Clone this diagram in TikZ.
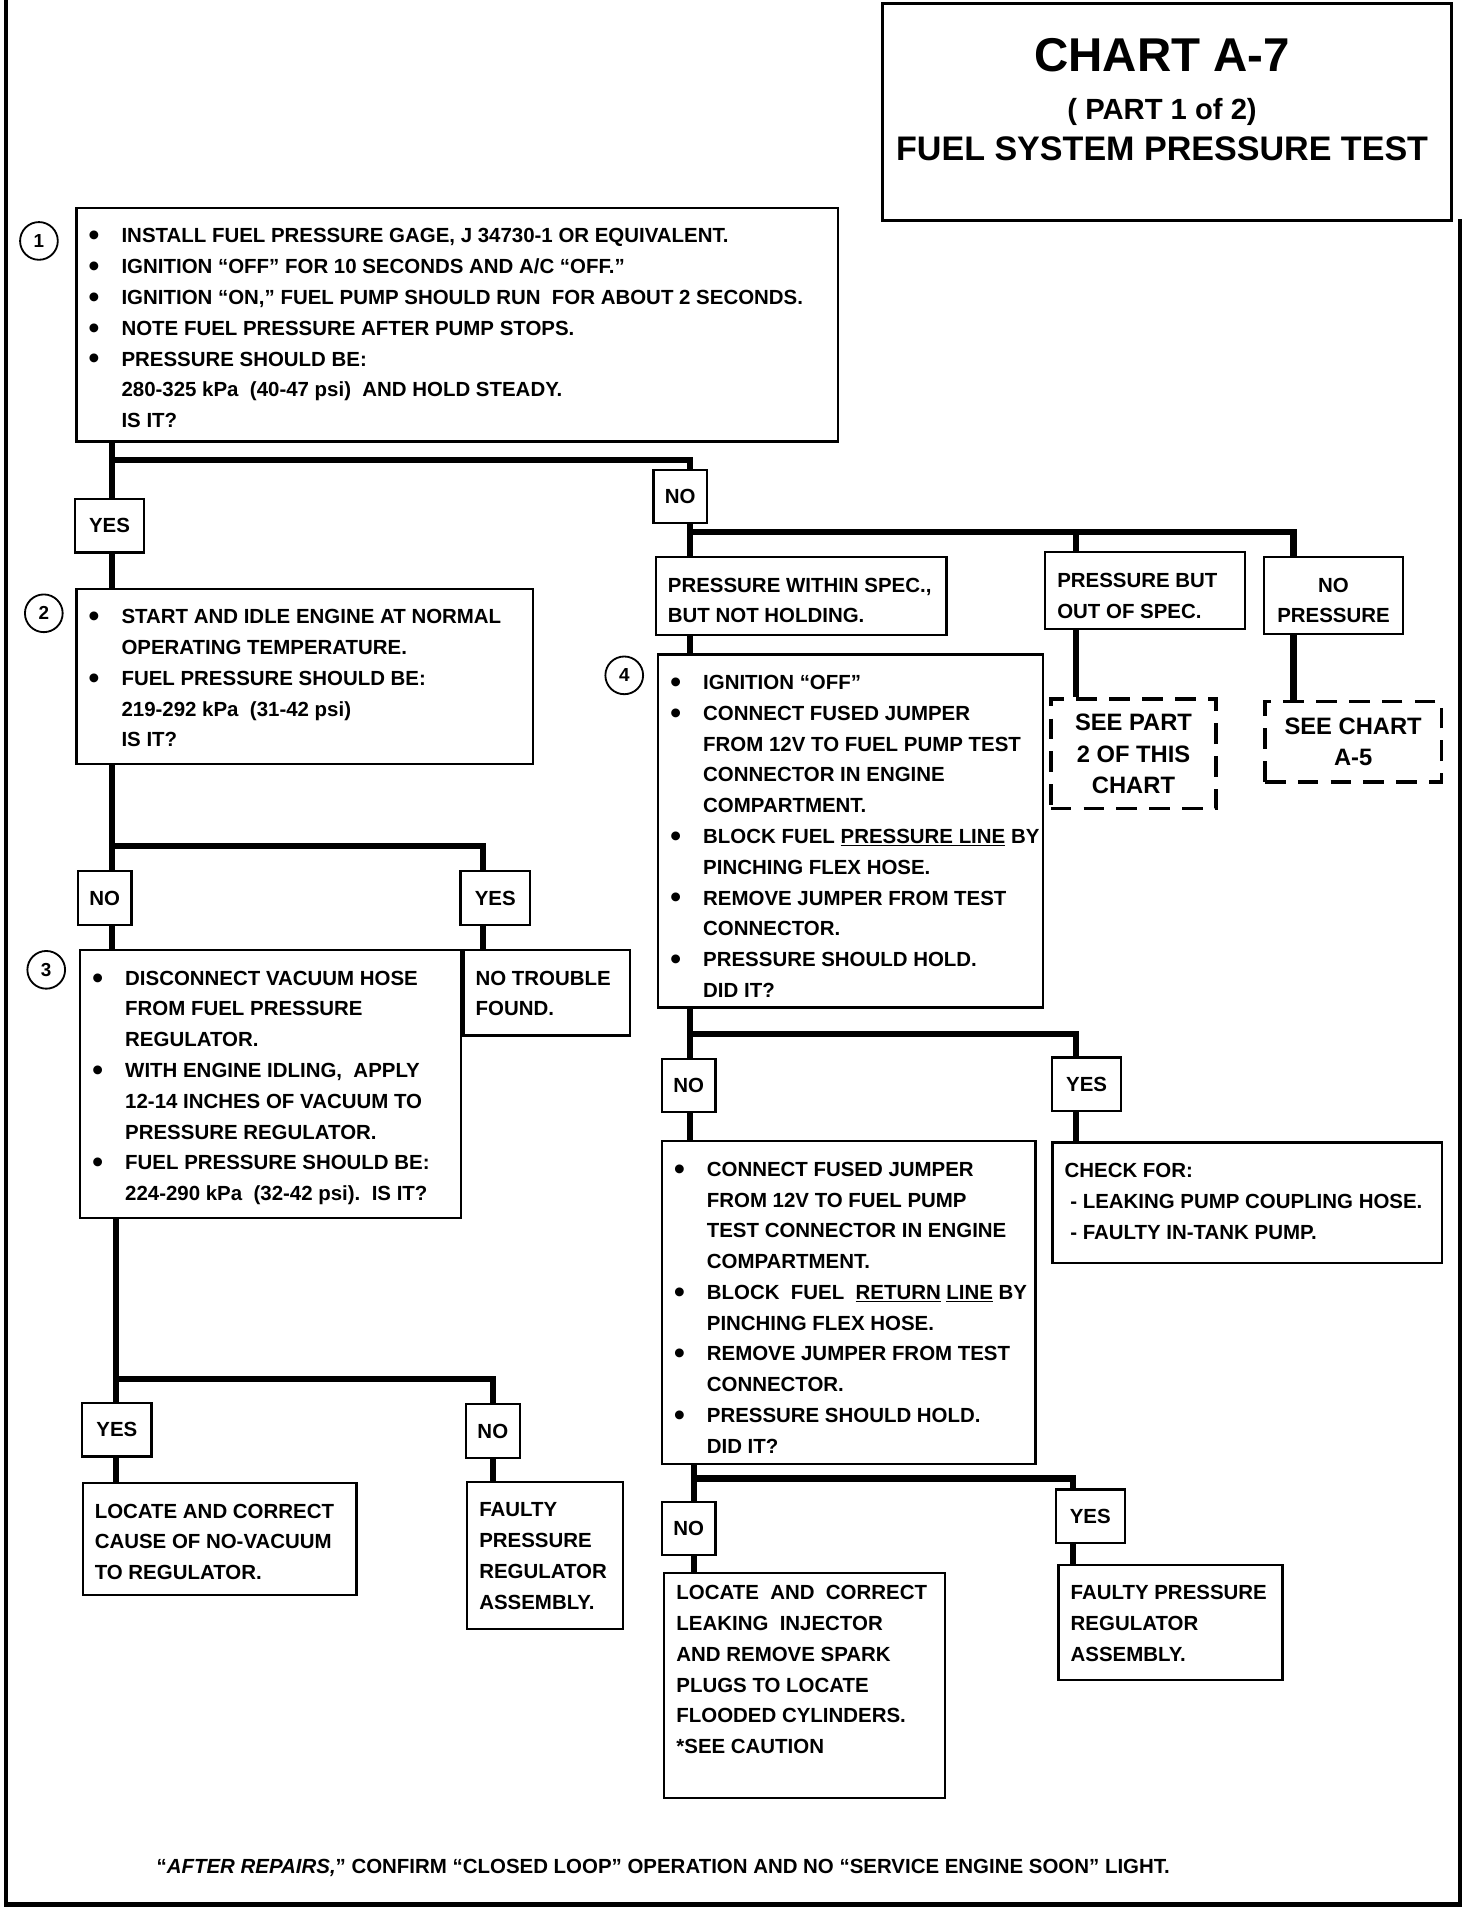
\documentclass[tikz,border=0pt]{standalone}
\usepackage{fontspec}
\setmainfont{Liberation Sans}

\newcommand{\bul}{\makebox[27pt][l]{\raisebox{-2.4pt}{\scalebox{1.5}{\textbullet}}}}
\newcommand{\ind}{\hspace*{27pt}}
\newcommand{\boxtext}[3]{\makebox[\dimexpr#1pt-20pt\relax][l]{\parbox[t][\dimexpr#2pt-34pt\relax][t]{\dimexpr#1pt-12pt\relax}{\raggedright#3}}}

\begin{document}
\begin{tikzpicture}[x=1pt, y=-1pt,
        box/.style={draw, line width=1.8pt, anchor=north west, inner xsep=10pt, inner ysep=17pt, font=\bfseries\fontsize{16.8}{25.3}\selectfont},
        tag/.style={draw, line width=1.8pt, minimum height=44pt, inner sep=0pt, font=\bfseries\fontsize{16.8}{20}\selectfont},
        yes/.style={tag, minimum width=57pt},
        no/.style={tag, minimum width=44pt},
        seebox/.style={draw, line width=3pt, dash pattern=on 17pt off 10pt, anchor=north west, align=center, inner sep=0pt, font=\bfseries\fontsize{19.5}{25.5}\selectfont},
        num/.style={draw, circle, line width=1.5pt, minimum size=31pt, inner sep=0pt, font=\bfseries\fontsize{15.5}{15.5}\selectfont},
        wire/.style={line width=5pt, line join=miter}]
        \useasboundingbox (0,0) rectangle (1210,1568);
        \draw[line width=3.5pt] (5,0) -- (5,1565) -- (1200,1565) -- (1200,180);

        \node[draw, line width=2.2pt, anchor=north west, minimum width=468pt, minimum height=178pt] (title) at (724,2) {};
        \node[font=\bfseries\fontsize{39}{39}\selectfont] (chart) at (955,45) {CHART A-7};
        \node[font=\bfseries\fontsize{24}{24}\selectfont] (part) at (955,92) {( PART 1 of 2)};
        \node[font=\bfseries\fontsize{28}{28}\selectfont] (test) at (955,122) {FUEL SYSTEM PRESSURE TEST};

        \node[num] (s1) at (32,198) {1};
        \node[num] (s2) at (36,504) {2};
        \node[num] (s3) at (38,797) {3};
        \node[num] (s4) at (513,555) {4};

        \node[box] (b1) at (62,170) {\boxtext{626}{192}{%
            \bul INSTALL FUEL PRESSURE GAGE, J 34730-1 OR EQUIVALENT.\\
            \bul IGNITION “OFF” FOR 10 SECONDS AND A/C “OFF.”\\
            \bul IGNITION “ON,” FUEL PUMP SHOULD RUN\ \ FOR ABOUT 2 SECONDS.\\
            \bul NOTE FUEL PRESSURE AFTER PUMP STOPS.\\
            \bul PRESSURE SHOULD BE:\\
            \ind 280-325 kPa\ \ (40-47 psi)\ \ AND HOLD STEADY.\\
            \ind IS IT?}};
        \node[box] (b2) at (62,483) {\boxtext{375}{144}{%
            \bul START AND IDLE ENGINE AT NORMAL\\
            \ind OPERATING TEMPERATURE.\\
            \bul FUEL PRESSURE SHOULD BE:\\
            \ind 219-292 kPa\ \ (31-42 psi)\\
            \ind IS IT?}};
        \node[box] (b3) at (65,780) {\boxtext{313}{220}{%
            \bul DISCONNECT VACUUM HOSE\\
            \ind FROM FUEL PRESSURE\\
            \ind REGULATOR.\\
            \bul WITH ENGINE IDLING,\ \ APPLY\\
            \ind 12-14 INCHES OF VACUUM TO\\
            \ind PRESSURE REGULATOR.\\
            \bul FUEL PRESSURE SHOULD BE:\\
            \ind 224-290 kPa\ \ (32-42 psi).\ \ IS IT?}};
        \node[box] (nt) at (380,780) {\boxtext{137}{70}{NO TROUBLE\\ FOUND.}};
        \node[box] (loc) at (67,1218) {\boxtext{225}{92}{LOCATE AND CORRECT\\ CAUSE OF NO-VACUUM\\ TO REGULATOR.}};
        \node[box] (fpr) at (383,1217) {\boxtext{128}{121}{FAULTY\\ PRESSURE\\ REGULATOR\\ ASSEMBLY.}};

        \node[box] (c1) at (538,457) {\boxtext{239}{64}{PRESSURE WITHIN SPEC.,\\ BUT NOT HOLDING.}};
        \node[box] (c2) at (858,453) {\boxtext{164}{63}{PRESSURE BUT\\ OUT OF SPEC.}};
        \node[box] (c3) at (1038,457) {\boxtext{114}{63}{\makebox[94pt]{NO}\\ \makebox[94pt]{PRESSURE}}};
        \node[seebox, minimum width=136pt, minimum height=90pt] (d1) at (862,573) {SEE PART\\ 2 OF THIS\\ CHART};
        \node[seebox, minimum width=145pt, minimum height=66pt] (d2) at (1038,575) {SEE CHART\\ A-5};

        \node[box] (b4) at (540,537) {\boxtext{316}{290}{%
            \bul IGNITION “OFF”\\
            \bul CONNECT FUSED JUMPER\\
            \ind FROM 12V TO FUEL PUMP TEST\\
            \ind CONNECTOR IN ENGINE\\
            \ind COMPARTMENT.\\
            \bul BLOCK FUEL \underline{PRESSURE LINE} BY\\
            \ind PINCHING FLEX HOSE.\\
            \bul REMOVE JUMPER FROM TEST\\
            \ind CONNECTOR.\\
            \bul PRESSURE SHOULD HOLD.\\
            \ind DID IT?}};
        \node[box] (chk) at (864,938) {\boxtext{320}{99}{CHECK FOR:\\
            \ - LEAKING PUMP COUPLING HOSE.\\
            \ - FAULTY IN-TANK PUMP.}};
        \node[box] (b5) at (543,937) {\boxtext{307}{265}{%
            \bul CONNECT FUSED JUMPER\\
            \ind FROM 12V TO FUEL PUMP\\
            \ind TEST CONNECTOR IN ENGINE\\
            \ind COMPARTMENT.\\
            \bul BLOCK\ \ FUEL\ \ \underline{RETURN} \underline{LINE} BY\\
            \ind PINCHING FLEX HOSE.\\
            \bul REMOVE JUMPER FROM TEST\\
            \ind CONNECTOR.\\
            \bul PRESSURE SHOULD HOLD.\\
            \ind DID IT?}};
        \node[box] (leak) at (545,1292) {\boxtext{231}{185}{\vspace*{-7pt}%
            LOCATE\ \ AND\ \ CORRECT\\
            LEAKING\ \ INJECTOR\\
            AND REMOVE SPARK\\
            PLUGS TO LOCATE\\
            FLOODED CYLINDERS.\\
            {*}SEE CAUTION}};
        \node[box] (fpr2) at (869,1285) {\boxtext{184}{95}{FAULTY PRESSURE\\ REGULATOR\\ ASSEMBLY.}};

        \node[yes] (y1) at (90,432) {YES};
        \node[no] (n1) at (559,408) {NO};
        \node[no] (n2) at (86,738) {NO};
        \node[yes] (y2) at (407,738) {YES};
        \node[yes] (y3) at (96,1175) {YES};
        \node[no] (n3) at (405,1176) {NO};
        \node[no] (n4) at (566,892) {NO};
        \node[yes] (y4) at (893,891) {YES};
        \node[no] (n5) at (566,1256) {NO};
        \node[yes] (y5) at (896,1246) {YES};

        \coordinate (j1) at (92,378);
        \coordinate (k1) at (567,378);
        \draw[wire] (j1 |- b1.south) -- (j1 |- y1.north);
        \draw[wire] (j1 |- y1.south) -- (j1 |- b2.north);
        \draw[wire] (j1) -- (k1) -- (k1 |- n1.north);
        \draw[wire] (k1 |- n1.south) -- (k1 |- c1.north);

        \coordinate (j2) at (567,437);
        \coordinate (k2) at (884,437);
        \coordinate (m2) at (1063,437);
        \draw[wire] (j2) -- (m2) -- (m2 |- c3.north);
        \draw[wire] (k2) -- (k2 |- c2.north);
        \draw[wire] (k2 |- c2.south) -- (k2 |- d1.north);
        \draw[wire] (m2 |- c3.south) -- (m2 |- d2.north);
        \draw[wire] (j2 |- c1.south) -- (j2 |- b4.north);

        \coordinate (j3) at (92,695);
        \coordinate (k3) at (397,695);
        \draw[wire] (j3 |- b2.south) -- (j3 |- n2.north);
        \draw[wire] (j3) -- (k3) -- (k3 |- y2.north);
        \draw[wire] (j3 |- n2.south) -- (j3 |- b3.north);
        \draw[wire] (k3 |- y2.south) -- (k3 |- nt.north);

        \coordinate (j4) at (95,1133);
        \coordinate (k4) at (405,1133);
        \draw[wire] (j4 |- b3.south) -- (j4 |- y3.north);
        \draw[wire] (j4) -- (k4) -- (k4 |- n3.north);
        \draw[wire] (j4 |- y3.south) -- (j4 |- loc.north);
        \draw[wire] (k4 |- n3.south) -- (k4 |- fpr.north);

        \coordinate (j5) at (567,850);
        \coordinate (k5) at (884,850);
        \draw[wire] (j5 |- b4.south) -- (j5 |- n4.north);
        \draw[wire] (j5) -- (k5) -- (k5 |- y4.north);
        \draw[wire] (j5 |- n4.south) -- (j5 |- b5.north);
        \draw[wire] (k5 |- y4.south) -- (k5 |- chk.north);

        \coordinate (j6) at (570,1215);
        \coordinate (k6) at (882,1215);
        \draw[wire] (j6 |- b5.south) -- (j6 |- n5.north);
        \draw[wire] (j6) -- (k6) -- (k6 |- y5.north);
        \draw[wire] (j6 |- n5.south) -- (j6 |- leak.north);
        \draw[wire] (k6 |- y5.south) -- (k6 |- fpr2.north);

        \node[font=\bfseries\fontsize{16.8}{20}\selectfont] (note) at (545,1535) {“\textit{AFTER REPAIRS,}” CONFIRM “CLOSED LOOP” OPERATION AND NO “SERVICE ENGINE SOON” LIGHT.};
    \end{tikzpicture}
\end{document}
